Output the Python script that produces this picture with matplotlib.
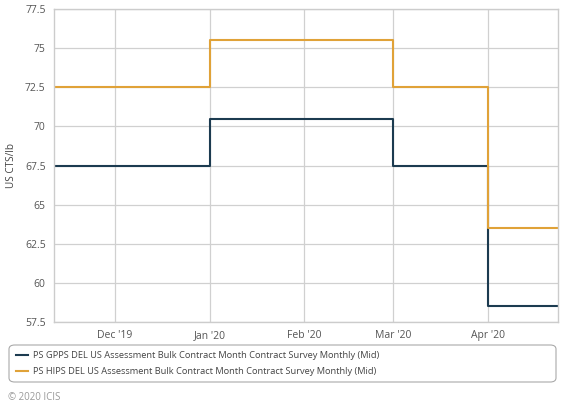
import matplotlib.pyplot as plt
import matplotlib.dates as mdates
import pandas as pd
from matplotlib.patches import FancyBboxPatch

# monthly assessments (value applies from the date until the next one)
dates = pd.to_datetime(['2019-11-01', '2019-12-01', '2020-01-01', '2020-02-01',
                        '2020-03-01', '2020-04-01', '2020-04-24'])
gpps = [67.5, 67.5, 70.5, 70.5, 67.5, 58.5, 58.5]
hips = [72.5, 72.5, 75.5, 75.5, 72.5, 63.5, 63.5]

labels = ['PS GPPS DEL US Assessment Bulk Contract Month Contract Survey Monthly (Mid)',
          'PS HIPS DEL US Assessment Bulk Contract Month Contract Survey Monthly (Mid)']
colors = ['#1c3b50', '#e0a238']

plt.rcParams['font.family'] = ['Open Sans', 'DejaVu Sans']

fig = plt.figure(figsize=(5.76, 4.12), dpi=100)
ax = fig.add_axes([0.09375, 0.2184, 0.875, 0.7597])

ax.step(dates, gpps, where='post', color=colors[0], lw=1.5, label=labels[0])
ax.step(dates, hips, where='post', color=colors[1], lw=1.5, label=labels[1])

ax.set_xlim(pd.Timestamp('2019-11-11'), pd.Timestamp('2020-04-24'))
ax.set_ylim(57.5, 77.5)
ax.set_yticks([57.5, 60, 62.5, 65, 67.5, 70, 72.5, 75, 77.5])
ax.set_yticklabels(['57.5', '60', '62.5', '65', '67.5', '70', '72.5', '75', '77.5'])
ax.xaxis.set_major_locator(mdates.MonthLocator(bymonth=[12, 1, 2, 3, 4]))
ax.xaxis.set_major_formatter(mdates.DateFormatter("%b '%y"))

ax.grid(True, color='#d0d0d0', lw=0.9)
ax.set_axisbelow(True)
for s in ax.spines.values():
    s.set_color('#cccccc')
    s.set_linewidth(1)
ax.tick_params(length=0, labelsize=7.5, colors='#555555', pad=6)
ax.set_ylabel('US CTS/lb', fontsize=7.2, color='#444444', labelpad=6)

# legend box
fig.patches.append(FancyBboxPatch((9 / 576, 1 - 382 / 412), 547 / 576, 37 / 412,
                                  boxstyle='round,pad=0,rounding_size=0.01',
                                  transform=fig.transFigure, fc='white',
                                  ec='#aaaaaa', lw=0.8))
leg = fig.legend(loc='upper left', bbox_to_anchor=(14 / 576, 1 - 349 / 412),
                 frameon=False, fontsize=6.7, handlelength=1.3, handletextpad=0.5,
                 labelspacing=0.8, borderaxespad=0, borderpad=0.2)
for t in leg.get_texts():
    t.set_color('#444444')

fig.text(8 / 576, 1 - 398 / 412, '\u00a9 2020 ICIS', fontsize=7, color='#999999',
         va='center')

plt.savefig('out.png', dpi=100)
